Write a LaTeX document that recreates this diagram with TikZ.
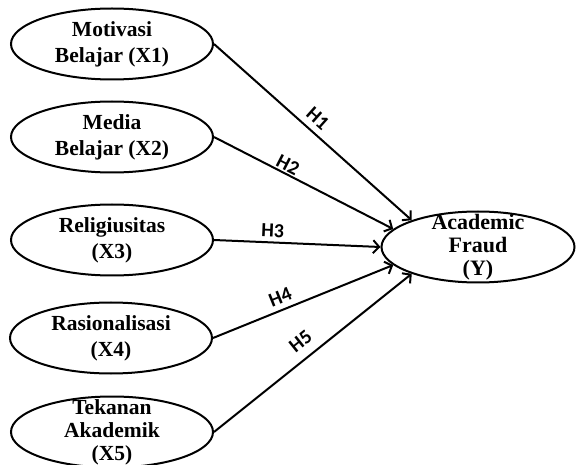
\documentclass[tikz,border=0pt]{standalone}
\usepackage{fontspec}
\setmainfont{Liberation Serif}
\newfontfamily\hfont{Carlito}
\usepackage{tikz}
\usetikzlibrary{arrows.meta, shapes.geometric, positioning}

\tikzset{
  var/.style={draw, ellipse, line width=2pt, minimum width=202pt, minimum height=71pt, inner sep=0pt},
  vartext/.style={align=center, font=\fontsize{21.5}{26}\selectfont\bfseries},
  hyp/.style={line width=2pt, -{Straight Barb[length=6pt, width=13pt]}},
  hlab/.style={sloped, inner sep=0pt, font=\fontsize{20}{20}\selectfont\hfont\bfseries}
}

\begin{document}
\begin{tikzpicture}[x=1pt, y=-1pt]

            \useasboundingbox (0,0) rectangle (576,465);

            % Variabel bebas
            \node[var, label={[vartext]center:Motivasi\\Belajar (X1)}] (x1) at (112,44) {}; % X1
            \node[var, label={[vartext]center:Media\\Belajar (X2)}] (x2) at (112,137) {}; % X2
            \node[var, label={[vartext]center:Religiusitas\\(X3)}] (x3) at (112,240) {}; % X3
            \node[var, label={[vartext]center:Rasionalisasi\\(X4)}] (x4) at (111,338) {}; % X4
            \node[var, label={[vartext, font=\fontsize{21.5}{23}\selectfont\bfseries]center:Tekanan\\Akademik\\(X5)}] (x5) at (112,432) {}; % X5

            % Variabel terikat
            \node[var, minimum width=193pt, label={[vartext, font=\fontsize{22}{23}\selectfont\bfseries]center:Academic\\Fraud\\(Y)}] (y) at (478,247) {}; % Y

            % Hipotesis
            \draw[hyp] (x1.east) -- (y.158) node[hlab, pos=0.48, above=6pt] {H1};
            \draw[hyp] (x2.east) -- (y.168) node[hlab, pos=0.39, above=1.5pt] {H2};
            \draw[hyp] (x3.east) -- (y.180) node[hlab, pos=0.35, above=4pt] {H3};
            \draw[hyp] (x4.east) -- (y.192) node[hlab, pos=0.40, above=5.5pt] {H4};
            \draw[hyp] (x5.east) -- (y.202) node[hlab, pos=0.49, above=9pt] {H5};

            \end{tikzpicture}
\end{document}
